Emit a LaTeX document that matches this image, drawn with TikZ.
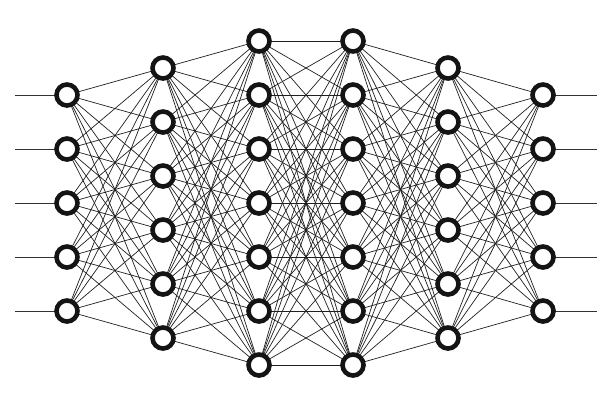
\documentclass[tikz,border=0pt]{standalone}
\usetikzlibrary{backgrounds}
\begin{document}
\begin{tikzpicture}[x=1pt,y=-1pt,
  neuron/.style={circle,draw=black!92,fill=white,line width=4.6pt,minimum size=21pt,inner sep=0pt},
  edge/.style={draw=black!88,line width=0.7pt},
  io/.style={draw=black!80,line width=0.9pt}]
\useasboundingbox (0,0) rectangle (612,408);
% neurons
\foreach \l/\x/\n/\ys in {1/67/5/95,2/163/6/68,3/259/7/41,4/353/7/41,5/448/6/68,6/543/5/95}{
  \foreach \i in {1,...,\n}{
    \node[neuron] (n\l-\i) at (\x,{\ys+54*(\i-1)}) {};
  }
}
\begin{scope}[on background layer]
% connections
\foreach \a/\na/\b/\nb in {1/5/2/6,2/6/3/7,3/7/4/7,4/7/5/6,5/6/6/5}{
  \foreach \i in {1,...,\na}{
    \foreach \j in {1,...,\nb}{
      \draw[edge] (n\a-\i.center) -- (n\b-\j.center);
    }
  }
}
% input and output lines
\foreach \i in {1,...,5}{
  \coordinate (in\i) at (15,{95+54*(\i-1)});
  \coordinate (out\i) at (597,{95+54*(\i-1)});
  \draw[io] (in\i) -- (n1-\i.center);
  \draw[io] (n6-\i.center) -- (out\i);
}
\end{scope}
\end{tikzpicture}
\end{document}
